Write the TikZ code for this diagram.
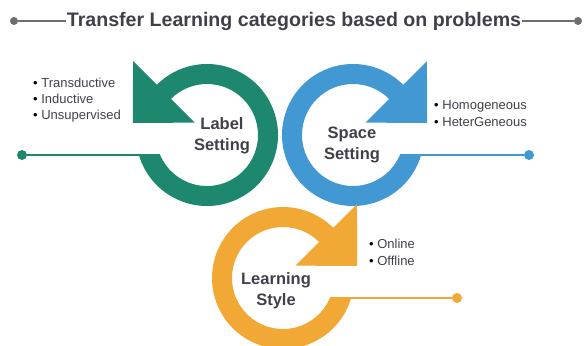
\documentclass[tikz,border=0pt]{standalone}
\usepackage{fontspec}
\setmainfont{Liberation Sans}
\usetikzlibrary{calc}
\definecolor{ringgreen}{RGB}{30,136,110}
\definecolor{ringblue}{RGB}{66,152,210}
\definecolor{ringorange}{RGB}{242,168,52}
\definecolor{textgray}{RGB}{64,64,74}
\definecolor{linegray}{RGB}{110,110,110}
\tikzset{enddot/.style={circle, fill, inner sep=0pt, minimum size=10pt}}
\tikzset{ringlabel/.style={align=center, text=textgray, inner sep=0pt, font=\fontsize{16.5}{21}\selectfont\bfseries}}
\tikzset{listitem/.style={anchor=base west, inner sep=0pt, text=textgray, font=\fontsize{13}{16}\selectfont}}
\tikzset{ringarrow/.pic={
    \fill[#1] (163.65:71) arc[start angle=163.65, end angle=-135, radius=71]
      -- (-135:104.5) -- (-74.24,-12.02) -- (-135:17.5) -- (-135:51)
      arc[start angle=-135, end angle=156.9, radius=51] -- cycle;
  }}

\begin{document}
\begin{tikzpicture}[x=1pt,y=-1pt]
  \useasboundingbox (0,0) rectangle (585,345);
  \node[font=\fontsize{19.6}{23}\selectfont\bfseries, text=textgray, inner sep=1pt] (title) at (294,21)
    {Transfer Learning categories based on problems};
  \node[enddot, fill=linegray, minimum size=8pt] (tleft) at (14,21) {};
  \node[enddot, fill=linegray, minimum size=8pt] (tright) at (578,21) {};
  \draw[linegray, line width=1.5pt] (tleft) -- (title);
  \draw[linegray, line width=1.5pt] (title) -- (tright);

  \foreach \cx/\cy/\col/\ex/\dx/\lab in {
    207/135/ringgreen/160/22/label,
    353/135/ringblue/400/529/space,
    283/278/ringorange/330/457/style%
  } {
    \node[enddot, fill=\col] (\lab dot) at (\dx, \cy+20) {};
    \coordinate (\lab end) at (\ex, \cy+20);
    \draw[\col, line width=2pt] (\lab dot) -- (\lab end);
  }

  \pic at (207,135) {ringarrow=ringgreen};
  \pic[xscale=-1] at (353,135) {ringarrow=ringblue};
  \pic[xscale=-1] at (283,278) {ringarrow=ringorange};

  \node[ringlabel] (label) at (222,136) {Label\\Setting};
  \node[ringlabel] (space) at (352,145) {Space\\Setting};
  \node[ringlabel] (style) at (276,291) {Learning\\Style};

  \foreach \x/\y/\txt/\n in {
    33/87/Transductive/1,
    33/103/Inductive/2,
    33/119/Unsupervised/3,
    434/109/Homogeneous/4,
    434/126/HeterGeneous/5,
    369/248/Online/6,
    369/265/Offline/7%
  } {
    \node[listitem] (item\n) at (\x, \y) {{\color{black}\textbullet}\ \txt};
  }
\end{tikzpicture}
\end{document}
